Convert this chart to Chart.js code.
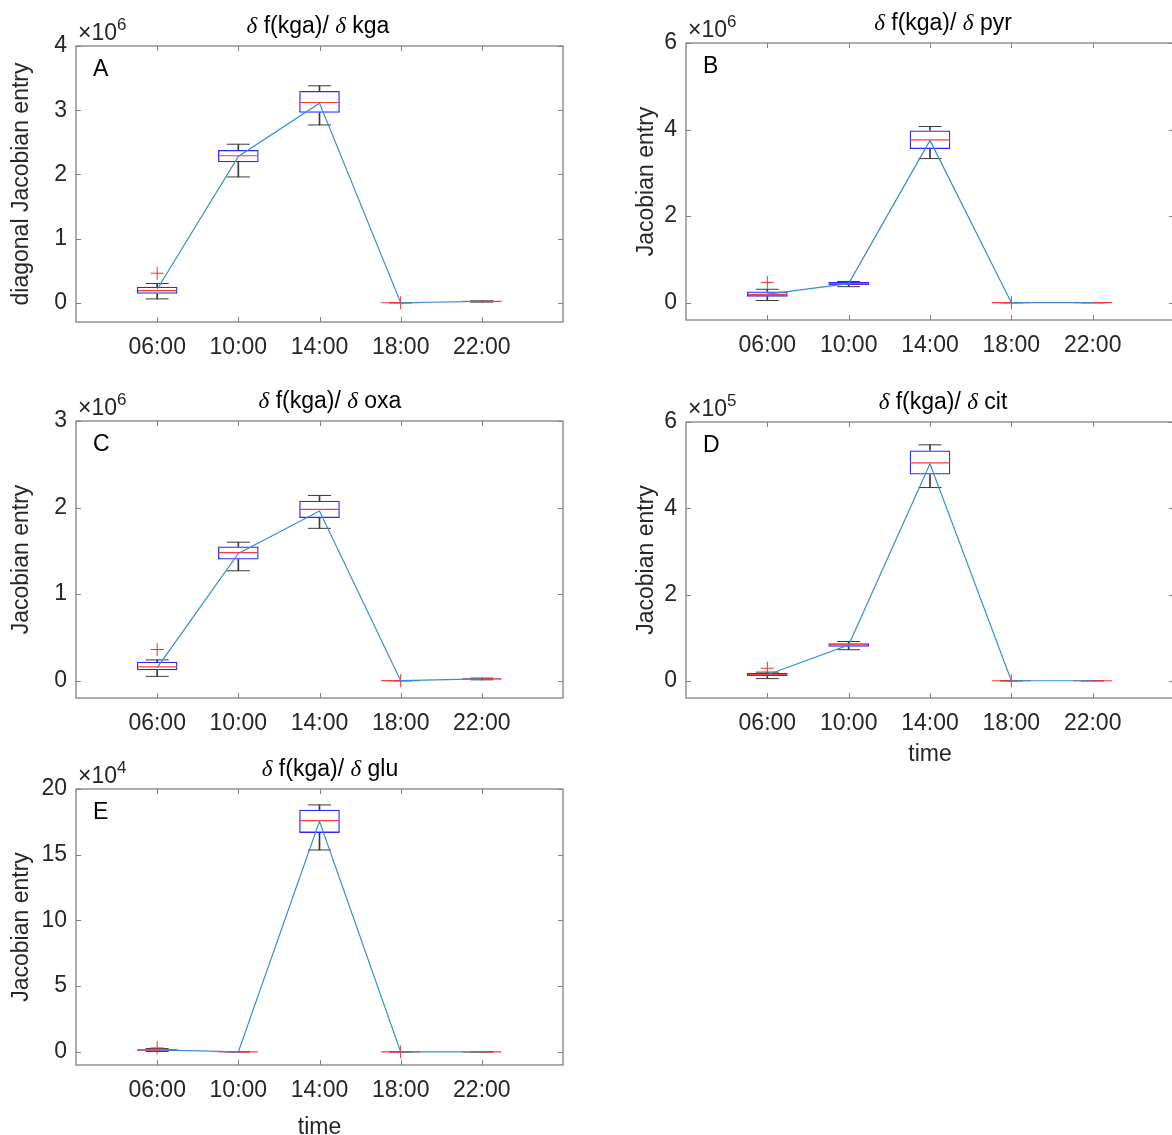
<!DOCTYPE html>
<html>
<head>
<meta charset="utf-8">
<script src="https://cdn.jsdelivr.net/npm/chart.js@4.4.1/dist/chart.umd.min.js"></script>
<style>
  html, body { margin: 0; padding: 0; background: #fff; overflow: hidden; }
  #fig { position: relative; width: 1172px; height: 1135px; overflow: hidden; }
  #fig canvas { position: absolute; }
</style>
</head>
<body>
<div id="fig">
  <canvas id="pA"></canvas>
  <canvas id="pB"></canvas>
  <canvas id="pC"></canvas>
  <canvas id="pD"></canvas>
  <canvas id="pE"></canvas>
</div>
<script>
const times = ['06:00', '10:00', '14:00', '18:00', '22:00'];

// A: d f(kga)/d kga  (x 10^6)
const kgaLow  = [0.06, 1.96, 2.77, 0, 0.01];
const kgaQ1   = [0.14, 2.19, 2.96, 0, 0.015];
const kgaMed  = [0.19, 2.29, 3.12, 0, 0.02];
const kgaQ3   = [0.25, 2.38, 3.30, 0, 0.025];
const kgaHigh = [0.30, 2.47, 3.38, 0, 0.03];
const kgaOut  = [[0.46], [], [], [0], []];
const kgaLine = [0.21, 2.28, 3.11, 0, 0.02];
const kgaTicks = [0, 1, 2, 3, 4];

// B: d f(kga)/d pyr  (x 10^6)
const pyrLow  = [0.05, 0.37, 3.33, 0, 0];
const pyrQ1   = [0.14, 0.41, 3.55, 0, 0];
const pyrMed  = [0.19, 0.44, 3.76, 0, 0];
const pyrQ3   = [0.26, 0.48, 3.98, 0, 0];
const pyrHigh = [0.31, 0.49, 4.07, 0, 0];
const pyrOut  = [[0.47], [], [], [0], []];
const pyrLine = [0.20, 0.44, 3.75, 0, 0];
const pyrTicks = [0, 2, 4, 6];

// C: d f(kga)/d oxa  (x 10^6)
const oxaLow  = [0.05, 1.27, 1.76, 0, 0.01];
const oxaQ1   = [0.12, 1.40, 1.88, 0, 0.015];
const oxaMed  = [0.16, 1.48, 1.98, 0, 0.02];
const oxaQ3   = [0.22, 1.55, 2.08, 0, 0.025];
const oxaHigh = [0.24, 1.60, 2.14, 0, 0.03];
const oxaOut  = [[0.36], [], [], [0], []];
const oxaLine = [0.15, 1.47, 1.96, 0, 0.02];
const oxaTicks = [0, 1, 2, 3];

// D: d f(kga)/d cit  (x 10^5)
const citLow  = [0.05, 0.72, 4.48, 0, 0];
const citQ1   = [0.11, 0.79, 4.78, 0, 0];
const citMed  = [0.14, 0.83, 5.05, 0, 0];
const citQ3   = [0.18, 0.87, 5.34, 0, 0];
const citHigh = [0.20, 0.91, 5.47, 0, 0];
const citOut  = [[0.29], [], [], [0], []];
const citLine = [0.14, 0.83, 5.03, 0, 0];
const citTicks = [0, 2, 4, 6];

// E: d f(kga)/d glu  (x 10^4)
const gluLow  = [0.03, 0, 15.36, 0, 0];
const gluQ1   = [0.08, 0, 16.66, 0, 0];
const gluMed  = [0.15, 0, 17.59, 0, 0];
const gluQ3   = [0.20, 0, 18.43, 0, 0];
const gluHigh = [0.25, 0, 18.79, 0, 0];
const gluOut  = [[0.30], [], [], [0], []];
const gluLine = [0.15, 0, 17.54, 0, 0];
const gluTicks = [0, 5, 10, 15, 20];

const SANS = '"Liberation Sans", Arial, Helvetica, sans-serif';
const SERIF = '"Liberation Serif", "Times New Roman", serif';
const TXT = '#262626';
const AXC = '#808080';

// axes box, inward ticks, title, exponent and panel letter
const decor = {
  id: 'decor',
  afterDatasetsDraw(chart, args, o) {
    const { ctx, chartArea: a, scales: { x, y } } = chart;
    ctx.save();
    ctx.strokeStyle = AXC;
    ctx.lineWidth = 1;
    ctx.beginPath();
    x.ticks.forEach(t => {
      const px = Math.round(x.getPixelForValue(t.value)) + 0.5;
      ctx.moveTo(px, a.bottom); ctx.lineTo(px, a.bottom - 5);
      ctx.moveTo(px, a.top); ctx.lineTo(px, a.top + 5);
    });
    y.ticks.forEach(t => {
      const py = Math.round(y.getPixelForValue(t.value)) + 0.5;
      ctx.moveTo(a.left, py); ctx.lineTo(a.left + 5, py);
      ctx.moveTo(a.right, py); ctx.lineTo(a.right - 5, py);
    });
    ctx.stroke();
    ctx.lineWidth = 1.3;
    ctx.strokeRect(a.left, a.top, a.right - a.left, a.bottom - a.top);

    // panel letter
    ctx.fillStyle = '#000';
    ctx.textBaseline = 'alphabetic';
    ctx.textAlign = 'left';
    ctx.font = '23px ' + SANS;
    ctx.fillText(o.letter, a.left + 17, a.top + 30);

    // exponent
    ctx.fillStyle = TXT;
    ctx.font = '23px ' + SANS;
    ctx.fillText('\u00d710', a.left + 2, a.top - 6);
    const w = ctx.measureText('\u00d710').width;
    ctx.font = '17px ' + SANS;
    ctx.fillText(o.exp, a.left + 2 + w, a.top - 16);

    // title: delta f(kga)/ delta xxx
    const parts = [['\u03b4', true], [' f(kga)/ ', false], ['\u03b4', true], [' ' + o.name, false]];
    const fnt = p => p[1] ? 'italic 23px ' + SERIF : '23px ' + SANS;
    let total = 0;
    parts.forEach(p => { ctx.font = fnt(p); total += ctx.measureText(p[0]).width; });
    let tx = o.titleX - total / 2;
    ctx.fillStyle = '#000';
    ctx.textBaseline = 'middle';
    parts.forEach(p => {
      ctx.font = fnt(p);
      ctx.fillText(p[0], tx, a.top - 19);
      tx += ctx.measureText(p[0]).width;
    });
    ctx.restore();
  }
};

function pts(vals) {
  return vals.map((v, i) => ({ x: i + 1, y: v }));
}

function makePanel(id, area, p) {
  const xH = p.xTitle ? 80 : 60;
  const padR = 26;
  const cv = document.getElementById(id);
  const W = (area.r - area.l) + 76 + padR;
  const H = (area.b - area.t) + 46 + xH;
  cv.width = W; cv.height = H;
  cv.style.left = (area.l - 76) + 'px';
  cv.style.top = (area.t - 46) + 'px';

  const outliers = [];
  p.out.forEach((arr, i) => arr.forEach(v => outliers.push({ x: i + 1, y: v })));

  new Chart(cv, {
    type: 'bar',
    data: {
      datasets: [
        { type: 'line', data: pts(p.line), borderColor: '#348fd0', borderWidth: 1.2,
          pointRadius: 0, tension: 0, order: 0 },
        { type: 'scatter', data: outliers, pointStyle: 'cross', pointRadius: 6.5,
          borderColor: '#ff2a2a', borderWidth: 1, backgroundColor: '#ff2a2a', order: 1 },
        { type: 'scatter', data: pts(p.med), pointStyle: 'line', pointRadius: 19.5,
          borderColor: '#ff3a3a', borderWidth: 1.2, order: 2 },
        { type: 'bar', data: p.q1.map((v, i) => ({ x: i + 1, y: [v, p.q3[i]] })),
          backgroundColor: 'rgba(0,0,0,0)', borderColor: '#2a2aff', borderWidth: 1.3,
          borderSkipped: false, grouped: false, barPercentage: 0.5, categoryPercentage: 1, order: 3 },
        { type: 'scatter', data: pts(p.low).concat(pts(p.high)), pointStyle: 'line', pointRadius: 11.5,
          borderColor: '#3a3a3a', borderWidth: 1, order: 4 },
        { type: 'bar', data: p.low.map((v, i) => ({ x: i + 1, y: [v, p.q1[i]] })),
          backgroundColor: '#3a3a3a', borderWidth: 0, grouped: false, barThickness: 1, order: 5 },
        { type: 'bar', data: p.q3.map((v, i) => ({ x: i + 1, y: [v, p.high[i]] })),
          backgroundColor: '#3a3a3a', borderWidth: 0, grouped: false, barThickness: 1, order: 5 }
      ]
    },
    options: {
      responsive: false,
      animation: false,
      devicePixelRatio: 1,
      layout: { padding: { left: 0, top: 46, right: padR, bottom: 0 } },
      plugins: {
        legend: { display: false },
        tooltip: { enabled: false },
        decor: { letter: p.letter, exp: p.exp, name: p.name, titleX: p.titleX - (area.l - 76) }
      },
      scales: {
        x: {
          type: 'linear', min: 0, max: 6, offset: false,
          grid: { display: false, drawTicks: false }, border: { display: false },
          afterBuildTicks: s => { s.ticks = times.map((t, i) => ({ value: i + 1 })); },
          afterFit: s => { s.height = xH; s.paddingLeft = 0; s.paddingRight = 0; },
          ticks: {
            autoSkip: false, maxRotation: 0, padding: 12, color: TXT,
            font: { family: SANS, size: 23 },
            callback: v => times[v - 1]
          },
          title: {
            display: !!p.xTitle, text: 'time', color: TXT,
            font: { family: SANS, size: 23 },
            padding: { top: 0, bottom: p.xTitlePad || 0 }
          }
        },
        y: {
          type: 'linear', min: p.ymin, max: p.ymax,
          grid: { display: false, drawTicks: false }, border: { display: false },
          afterBuildTicks: s => { s.ticks = p.ticks.map(v => ({ value: v })); },
          afterFit: s => { s.width = 76; s.paddingTop = 0; s.paddingBottom = 0; },
          ticks: { padding: 9, color: TXT, font: { family: SANS, size: 23 } },
          title: {
            display: true, text: p.ylabel, color: TXT,
            font: { family: SANS, size: 23 },
            padding: { top: p.yTitlePad, bottom: 0 }
          }
        }
      }
    },
    plugins: [decor]
  });
}

makePanel('pA', { l: 76, t: 46, r: 563, b: 322 }, {
  low: kgaLow, q1: kgaQ1, med: kgaMed, q3: kgaQ3, high: kgaHigh, out: kgaOut, line: kgaLine,
  ticks: kgaTicks, ymin: -0.3, ymax: 4, letter: 'A', exp: '6', name: 'kga', titleX: 318,
  ylabel: 'diagonal Jacobian entry', yTitlePad: 8
});
makePanel('pB', { l: 686, t: 43, r: 1174, b: 320 }, {
  low: pyrLow, q1: pyrQ1, med: pyrMed, q3: pyrQ3, high: pyrHigh, out: pyrOut, line: pyrLine,
  ticks: pyrTicks, ymin: -0.4, ymax: 6, letter: 'B', exp: '6', name: 'pyr', titleX: 943,
  ylabel: 'Jacobian entry', yTitlePad: 23
});
makePanel('pC', { l: 76, t: 421, r: 563, b: 698 }, {
  low: oxaLow, q1: oxaQ1, med: oxaMed, q3: oxaQ3, high: oxaHigh, out: oxaOut, line: oxaLine,
  ticks: oxaTicks, ymin: -0.2, ymax: 3, letter: 'C', exp: '6', name: 'oxa', titleX: 330,
  ylabel: 'Jacobian entry', yTitlePad: 8
});
makePanel('pD', { l: 686, t: 422, r: 1174, b: 698 }, {
  low: citLow, q1: citQ1, med: citMed, q3: citQ3, high: citHigh, out: citOut, line: citLine,
  ticks: citTicks, ymin: -0.4, ymax: 6, letter: 'D', exp: '5', name: 'cit', titleX: 943,
  ylabel: 'Jacobian entry', yTitlePad: 23, xTitle: true, xTitlePad: 10
});
makePanel('pE', { l: 76, t: 789, r: 563, b: 1065 }, {
  low: gluLow, q1: gluQ1, med: gluMed, q3: gluQ3, high: gluHigh, out: gluOut, line: gluLine,
  ticks: gluTicks, ymin: -1, ymax: 20, letter: 'E', exp: '4', name: 'glu', titleX: 330,
  ylabel: 'Jacobian entry', yTitlePad: 8, xTitle: true, xTitlePad: 4
});
</script>
</body>
</html>
